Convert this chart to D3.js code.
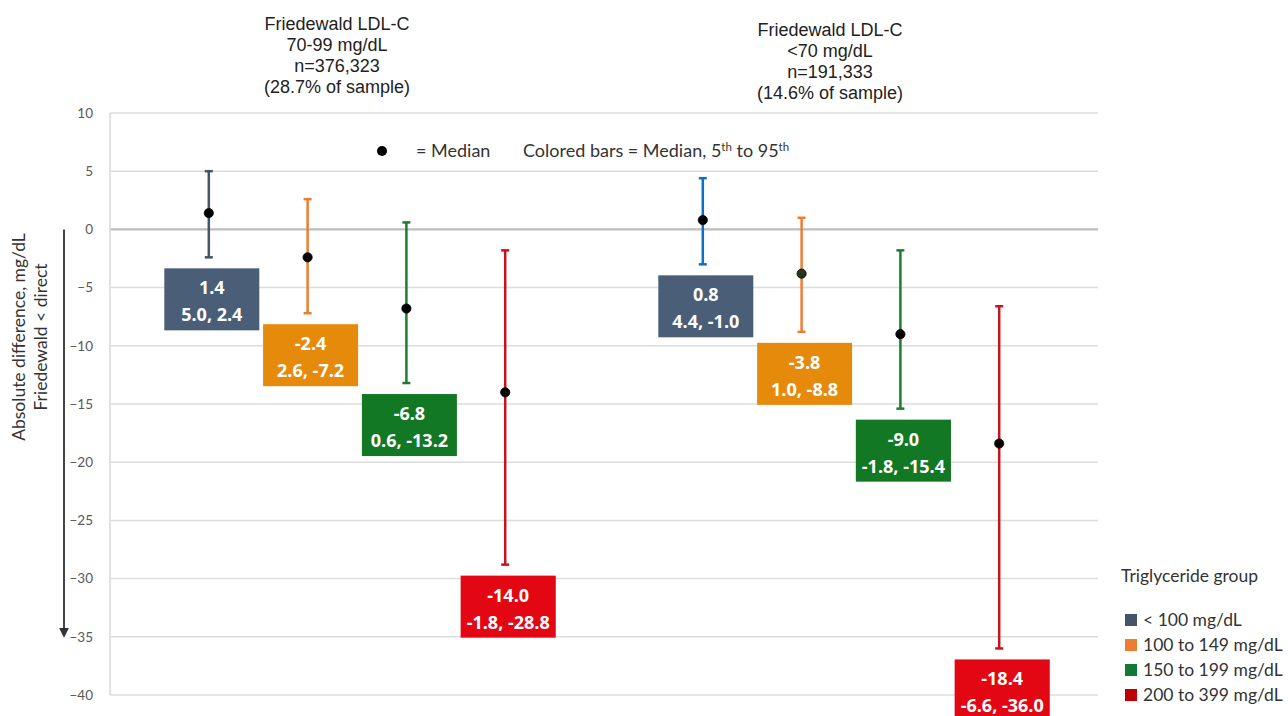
<!DOCTYPE html>
<html>
<head>
<meta charset="utf-8">
<script src="https://cdn.jsdelivr.net/npm/d3@7"></script>
<style>
  html, body { margin: 0; padding: 0; background: #ffffff; }
  svg { display: block; }
</style>
</head>
<body>
<svg id="chart" width="1288" height="716"></svg>
<script>
// Slots along the x axis: four triglyceride groups per LDL-C stratum, with a gap between strata
const slots = ["a1", "a2", "a3", "a4", "gap", "b1", "b2", "b3", "b4"];
const barSlots = ["a1", "a2", "a3", "a4", "b1", "b2", "b3", "b4"];

// Absolute difference (Friedewald - direct), mg/dL
const medians = [1.4, -2.4, -6.8, -14.0, 0.8, -3.8, -9.0, -18.4];
const p95 = [5.0, 2.6, 0.6, -1.8, 4.4, 1.0, -1.8, -6.6];
const p5 = [-2.4, -7.2, -13.2, -28.8, -3.0, -8.8, -15.4, -36.0];

// Text printed in the value boxes
const labelTop = ["1.4", "-2.4", "-6.8", "-14.0", "0.8", "-3.8", "-9.0", "-18.4"];
const labelBottom = ["5.0, 2.4", "2.6, -7.2", "0.6, -13.2", "-1.8, -28.8",
                     "4.4, -1.0", "1.0, -8.8", "-1.8, -15.4", "-6.6, -36.0"];

const yTicks = [10, 5, 0, -5, -10, -15, -20, -25, -30, -35, -40];

const stratumTitles = [
  ["Friedewald LDL-C", "70-99 mg/dL", "n=376,323", "(28.7% of sample)"],
  ["Friedewald LDL-C", "<70 mg/dL", "n=191,333", "(14.6% of sample)"]
];

const legendLabels = ["< 100 mg/dL", "100 to 149 mg/dL", "150 to 199 mg/dL", "200 to 399 mg/dL"];

// Styling
const whiskerColors = ["#44546a", "#ed7d31", "#1e7b34", "#c4141e",
                       "#0b70c8", "#ed7d31", "#1e7b34", "#c4141e"];
const boxColors = ["#4a5e78", "#e68a0c", "#137823", "#e30613",
                   "#4a5e78", "#e68a0c", "#137823", "#e30613"];
const dotFills = ["#000", "#000", "#000", "#000", "#000", "#22361a", "#000", "#000"];
const legendColors = ["#44546a", "#ed7d31", "#107a35", "#c00000"];

const svg = d3.select("#chart");
const plot = { left: 110, right: 1098, top: 113, bottom: 695 };

const x = d3.scalePoint().domain(slots).range([plot.left, plot.right]).padding(1);
const y = d3.scaleLinear().domain([-40, 10]).range([plot.bottom, plot.top]);

// Gridlines
svg.append("g")
  .selectAll("line")
  .data(yTicks)
  .join("line")
  .attr("x1", plot.left).attr("x2", plot.right)
  .attr("y1", d => y(d)).attr("y2", d => y(d))
  .attr("stroke", d => d === 0 ? "#bdbdbd" : "#dcdcdc")
  .attr("stroke-width", d => d === 0 ? 2.2 : 1.5);

// Left axis line
svg.append("line")
  .attr("x1", plot.left).attr("x2", plot.left)
  .attr("y1", y(10)).attr("y2", y(-40))
  .attr("stroke", "#d9d9d9").attr("stroke-width", 1.5);

// Y axis tick labels
const yAxis = svg.append("g")
  .attr("transform", `translate(${plot.left},0)`)
  .call(d3.axisLeft(y).tickValues(yTicks).tickSize(0).tickPadding(17).tickFormat(d3.format("d")));
yAxis.select(".domain").remove();
yAxis.selectAll("text")
  .attr("font-family", "Lato, 'Open Sans', sans-serif")
  .attr("font-size", 13.5)
  .attr("fill", "#595959");

// Y axis title, two rotated lines
const titleG = svg.append("g").attr("transform", "translate(0,337)");
titleG.append("text")
  .attr("transform", "translate(25,0) rotate(-90)")
  .attr("text-anchor", "middle")
  .attr("font-family", "Lato, 'Open Sans', sans-serif")
  .attr("font-size", 17.5)
  .attr("fill", "#333")
  .text("Absolute difference, mg/dL");
titleG.append("text")
  .attr("transform", "translate(47,0) rotate(-90)")
  .attr("text-anchor", "middle")
  .attr("font-family", "Lato, 'Open Sans', sans-serif")
  .attr("font-size", 17.5)
  .attr("fill", "#333")
  .text("Friedewald < direct");

// Downward arrow beside the axis
const defs = svg.append("defs");
defs.append("marker")
  .attr("id", "arrowhead")
  .attr("viewBox", "0 0 10 10")
  .attr("refX", 5).attr("refY", 5)
  .attr("markerWidth", 5).attr("markerHeight", 5)
  .attr("markerUnits", "strokeWidth")
  .attr("orient", "auto")
  .append("path")
  .attr("d", "M0,0 L10,5 L0,10 Z")
  .attr("fill", "#333");
svg.append("line")
  .attr("x1", 64).attr("x2", 64)
  .attr("y1", y(0)).attr("y2", y(-35) - 4)
  .attr("stroke", "#444").attr("stroke-width", 2)
  .attr("marker-end", "url(#arrowhead)");

// Stratum titles
const titleX = [337, 830];
const titleY0 = [30, 36];
stratumTitles.forEach((lines, i) => {
  const t = svg.append("text")
    .attr("text-anchor", "middle")
    .attr("font-family", "'Liberation Sans', Arial, sans-serif")
    .attr("font-size", 18)
    .attr("fill", "#222");
  lines.forEach((line, j) => {
    t.append("tspan")
      .attr("x", titleX[i])
      .attr("y", titleY0[i] + j * 21)
      .text(line);
  });
});

// Key for the symbols
svg.append("circle")
  .attr("cx", 382).attr("cy", 151).attr("r", 5)
  .attr("fill", "#000");
const keyText = svg.append("text")
  .attr("y", 157)
  .attr("font-family", "Lato, 'Open Sans', sans-serif")
  .attr("font-size", 18)
  .attr("fill", "#333");
keyText.append("tspan").attr("x", 416).text("= Median");
keyText.append("tspan").attr("x", 523).text("Colored bars = Median, 5");
keyText.append("tspan").attr("font-size", 11.5).attr("dy", -6).text("th");
keyText.append("tspan").attr("font-size", 18).attr("dy", 6).text(" to 95");
keyText.append("tspan").attr("font-size", 11.5).attr("dy", -6).text("th");

// Whiskers (5th to 95th percentile) and medians
const rows = barSlots.map((s, i) => ({
  slot: s, med: medians[i], hi: p95[i], lo: p5[i],
  top: labelTop[i], bottom: labelBottom[i],
  wc: whiskerColors[i], bc: boxColors[i], df: dotFills[i]
}));

const bars = svg.append("g").selectAll("g").data(rows).join("g");
bars.append("line")
  .attr("x1", d => x(d.slot)).attr("x2", d => x(d.slot))
  .attr("y1", d => y(d.hi)).attr("y2", d => y(d.lo))
  .attr("stroke", d => d.wc).attr("stroke-width", 2.5);
["hi", "lo"].forEach(k => {
  bars.append("line")
    .attr("x1", d => x(d.slot) - 4).attr("x2", d => x(d.slot) + 4)
    .attr("y1", d => y(d[k])).attr("y2", d => y(d[k]))
    .attr("stroke", d => d.wc).attr("stroke-width", 2.5);
});
bars.append("circle")
  .attr("cx", d => x(d.slot)).attr("cy", d => y(d.med))
  .attr("r", 4.6)
  .attr("fill", d => d.df)
  .attr("stroke", "#000").attr("stroke-width", 0.8);

// Value boxes beneath each whisker
const boxH = 62;
const boxes = svg.append("g").selectAll("g").data(rows).join("g");
boxes.each(function(d) {
  const g = d3.select(this);
  const cx = x(d.slot) + 3;
  const top = y(d.lo) + 11;
  const rect = g.append("rect").attr("fill", d.bc);
  const t1 = g.append("text")
    .attr("x", cx).attr("y", top + 26)
    .attr("text-anchor", "middle")
    .attr("font-family", "'Open Sans', sans-serif")
    .attr("font-weight", 700)
    .attr("font-size", 18)
    .attr("fill", "#fff")
    .text(d.top);
  const t2 = g.append("text")
    .attr("x", cx).attr("y", top + 53)
    .attr("text-anchor", "middle")
    .attr("font-family", "'Open Sans', sans-serif")
    .attr("font-weight", 700)
    .attr("font-size", 18)
    .attr("fill", "#fff")
    .text(d.bottom);
  const w = Math.max(95, t2.node().getComputedTextLength() + 12, t1.node().getComputedTextLength() + 12);
  rect.attr("x", cx - w / 2).attr("y", top).attr("width", w).attr("height", boxH);
});

// Legend
const legend = svg.append("g").attr("transform", "translate(1117,0)");
legend.append("text")
  .attr("x", 4).attr("y", 582)
  .attr("font-family", "Lato, 'Open Sans', sans-serif")
  .attr("font-size", 17.5)
  .attr("fill", "#333")
  .text("Triglyceride group");
const items = legend.selectAll("g.item")
  .data(legendLabels)
  .join("g")
  .attr("class", "item")
  .attr("transform", (d, i) => `translate(8,${620 + i * 25})`);
items.append("rect")
  .attr("x", 0).attr("y", -6).attr("width", 12).attr("height", 12)
  .attr("fill", (d, i) => legendColors[i]);
items.append("text")
  .attr("x", 18).attr("y", 6)
  .attr("font-family", "Lato, 'Open Sans', sans-serif")
  .attr("font-size", 17.5)
  .attr("fill", "#333")
  .text(d => d);
</script>
</body>
</html>
